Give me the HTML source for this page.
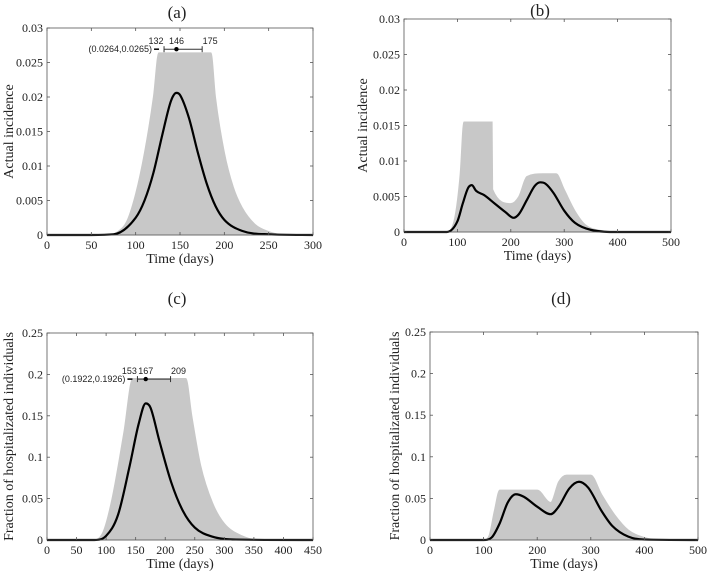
<!DOCTYPE html>
<html><head><meta charset="utf-8">
<style>
body{margin:0;background:#fff;}
svg text{font-family:"Liberation Serif",serif;fill:#222;}
.ann{font-family:"Liberation Sans",sans-serif;font-size:9px;}
</style></head>
<body>
<svg id="fig" width="708" height="574" xmlns="http://www.w3.org/2000/svg"></svg>
<script>
// Panel (a)
const aDays=[0,50,75,100,110,120,130,140,146,150,160,170,180,190,200,220,250,300];
const aMean=[0,0,0.0001,0.0025,0.005,0.009,0.0145,0.0195,0.0206,0.0203,0.017,0.012,0.0075,0.0042,0.0022,0.0006,0.0001,0];
const aUpDays=[0,70,80,90,100,110,120,126,185,190,200,210,220,235,250,270,300];
const aUp=[0,0,0.0005,0.002,0.006,0.012,0.02,0.0264,0.0264,0.02,0.012,0.007,0.004,0.0015,0.0005,0,0];
const aYTicks=[0,0.005,0.01,0.015,0.02,0.025,0.03];
const aXTicks=[0,50,100,150,200,250,300];
// Panel (b)
const bDays=[0,80,100,110,120,127,135,150,170,190,205,215,230,245,255,265,280,300,320,350,400,500];
const bMean=[0,0,0.0015,0.004,0.0062,0.0066,0.0058,0.0052,0.004,0.0028,0.002,0.0025,0.0045,0.0065,0.007,0.0068,0.0055,0.003,0.0013,0.0003,0,0];
const bUpDays=[0,80,95,105,112,165,166,200,215,230,260,285,300,320,340,370,400,500];
const bUp=[0,0,0.002,0.008,0.0155,0.0155,0.006,0.004,0.005,0.0078,0.0082,0.0082,0.006,0.003,0.001,0.0002,0,0];
const bYTicks=[0,0.005,0.01,0.015,0.02,0.025,0.03];
const bXTicks=[0,100,200,300,400,500];
// Panel (c)
const cDays=[0,80,100,120,140,155,167,175,190,210,230,250,280,320,450];
const cMean=[0,0,0.005,0.03,0.09,0.14,0.165,0.16,0.12,0.07,0.035,0.015,0.004,0.0005,0];
const cUpDays=[0,80,95,110,130,145,235,245,260,280,300,330,360,450];
const cUp=[0,0,0.01,0.05,0.13,0.195,0.195,0.15,0.09,0.045,0.02,0.005,0,0];
const cYTicks=[0,0.05,0.1,0.15,0.2,0.25];
const cXTicks=[0,50,100,150,200,250,300,350,400,450];
// Panel (d)
const dDays=[0,100,115,130,145,160,175,200,225,240,260,278,295,320,340,370,400,500];
const dMean=[0,0,0.003,0.02,0.045,0.055,0.052,0.04,0.031,0.04,0.062,0.07,0.063,0.035,0.017,0.004,0.0005,0];
const dUpDays=[0,100,110,120,130,200,225,240,255,300,320,345,370,400,430,500];
const dUp=[0,0,0.005,0.035,0.06,0.06,0.045,0.07,0.078,0.078,0.055,0.03,0.012,0.003,0,0];
const dYTicks=[0,0.05,0.1,0.15,0.2,0.25];
const dXTicks=[0,100,200,300,400,500];

const NS="http://www.w3.org/2000/svg";
const svg=document.getElementById('fig');
function mk(tag,attrs,parent){const e=document.createElementNS(NS,tag);for(const k in attrs)e.setAttribute(k,attrs[k]);(parent||svg).appendChild(e);return e;}

// monotone cubic path through screen points
function smooth(px,py){
  const n=px.length, dx=[], s=[], m=[];
  for(let i=0;i<n-1;i++){dx[i]=px[i+1]-px[i];s[i]=(py[i+1]-py[i])/dx[i];}
  m[0]=s[0];m[n-1]=s[n-2];
  for(let i=1;i<n-1;i++){m[i]=(s[i-1]*s[i]<=0)?0:(s[i-1]+s[i])/2;}
  for(let i=0;i<n-1;i++){
    if(s[i]===0){m[i]=0;m[i+1]=0;continue;}
    const a=m[i]/s[i],b=m[i+1]/s[i],h=a*a+b*b;
    if(h>9){const t=3/Math.sqrt(h);m[i]=t*a*s[i];m[i+1]=t*b*s[i];}
  }
  let d='M'+px[0]+','+py[0];
  for(let i=0;i<n-1;i++){
    const h=dx[i]/3;
    d+=' C'+(px[i]+h)+','+(py[i]+m[i]*h)+' '+(px[i+1]-h)+','+(py[i+1]-m[i+1]*h)+' '+px[i+1]+','+py[i+1];
  }
  return d;
}

function panel(p){
  const g=mk('g',{});
  
  
  const sx=v=>p.x0+(v-p.xmin)/(p.xmax-p.xmin)*(p.x1-p.x0);
  const sy=v=>p.y0-(v/p.ymax)*(p.y0-p.y1);
  let d=smooth(p.upX.map(sx),p.up.map(sy));
  d+=' L'+sx(p.upX[p.upX.length-1])+','+sy(0)+' L'+sx(p.upX[0])+','+sy(0)+' Z';
  const env=mk('path',{d:d,fill:'#c8c8c8',stroke:'#c8c8c8','stroke-width':1},g);
  
  
  const ml=mk('path',{d:smooth(p.mx.map(sx),p.my.map(sy)),fill:'none',stroke:'#000','stroke-width':2.2},g);
  
  
  const box=mk('rect',{x:p.x0,y:p.y1,width:p.x1-p.x0,height:p.y0-p.y1,fill:'none',stroke:'#555','stroke-width':0.8},g);
  
  
  p.yt.forEach(v=>{
    const y=sy(v);
    mk('line',{x1:p.x0,x2:p.x0+3,y1:y,y2:y,stroke:'#555','stroke-width':0.8},g);
    mk('line',{x1:p.x1,x2:p.x1-3,y1:y,y2:y,stroke:'#555','stroke-width':0.8},g);
    const t=mk('text',{x:p.x0-4,y:y+4,'text-anchor':'end','font-size':12},g);
    t.textContent=String(v);
    
    
  });
  p.xt.forEach(v=>{
    const x=sx(v);
    mk('line',{x1:x,x2:x,y1:p.y0,y2:p.y0-3,stroke:'#555','stroke-width':0.8},g);
    mk('line',{x1:x,x2:x,y1:p.y1,y2:p.y1+3,stroke:'#555','stroke-width':0.8},g);
    const t=mk('text',{x:x,y:p.y0+14,'text-anchor':'middle','font-size':12},g);
    t.textContent=String(v);
    
    
  });
  const xl=mk('text',{x:(p.x0+p.x1)/2,y:p.y0+28,'text-anchor':'middle','font-size':14},g);
  xl.textContent='Time (days)';
  
  
  const yl=mk('text',{x:0,y:0,'text-anchor':'middle','font-size':14,transform:'translate('+p.ylx+','+((p.y0+p.y1)/2)+') rotate(-90)'},g);
  yl.textContent=p.ylabel;
  
  
  const ti=mk('text',{x:p.tx,y:p.ty,'text-anchor':'middle','font-size':17},g);
  ti.textContent='('+p.id+')';
  
  
  if(p.ann){
    const a=p.ann, y=sy(p.ymax*a.frac);
    const ag=mk('g',{},g);
    
    
    mk('line',{x1:sx(a.lo),x2:sx(a.hi),y1:y,y2:y,stroke:'#333','stroke-width':1},ag);
    [a.lo,a.hi].forEach(v=>mk('line',{x1:sx(v),x2:sx(v),y1:y-3,y2:y+3,stroke:'#333','stroke-width':1},ag));
    mk('circle',{cx:sx(a.mid),cy:y,r:2.2,fill:'#000'},ag);
    [[a.lo,-8],[a.mid,0],[a.hi,8]].forEach(([v,dx])=>{const t=mk('text',{x:sx(v)+dx,y:y-5,'text-anchor':'middle',class:'ann'},ag);t.textContent=String(v);});
    const lt=mk('text',{x:sx(a.lo)-12,y:y+3,'text-anchor':'end',class:'ann'},ag);
    lt.textContent=a.label;
    mk('line',{x1:sx(a.lo)-10,x2:sx(a.lo)-5,y1:y,y2:y,stroke:'#000','stroke-width':1.5},ag);
  }
}
panel({id:'a',x0:47,x1:313,y0:235,y1:28,xmin:0,xmax:300,ymax:0.03,mx:aDays,my:aMean,upX:aUpDays,up:aUp,yt:aYTicks,xt:aXTicks,ylabel:'Actual incidence',ylx:13,tx:177,ty:18,ann:{lo:132,mid:146,hi:175,frac:0.0264/0.03*1.02,label:'(0.0264,0.0265)'}});
panel({id:'b',x0:404,x1:671,y0:232,y1:19,xmin:0,xmax:500,ymax:0.03,mx:bDays,my:bMean,upX:bUpDays,up:bUp,yt:bYTicks,xt:bXTicks,ylabel:'Actual incidence',ylx:367,tx:540,ty:16});
panel({id:'c',x0:47,x1:313,y0:540,y1:333,xmin:0,xmax:450,ymax:0.25,mx:cDays,my:cMean,upX:cUpDays,up:cUp,yt:cYTicks,xt:cXTicks,ylabel:'Fraction of hospitalizated individuals',ylx:13,tx:177,ty:304,ann:{lo:153,mid:167,hi:209,frac:0.1924/0.25*1.01,label:'(0.1922,0.1926)'}});
panel({id:'d',x0:430,x1:698,y0:540,y1:332,xmin:0,xmax:500,ymax:0.25,mx:dDays,my:dMean,upX:dUpDays,up:dUp,yt:dYTicks,xt:dXTicks,ylabel:'Fraction of hospitalizated individuals',ylx:399,tx:561,ty:304});
</script>
</body></html>
